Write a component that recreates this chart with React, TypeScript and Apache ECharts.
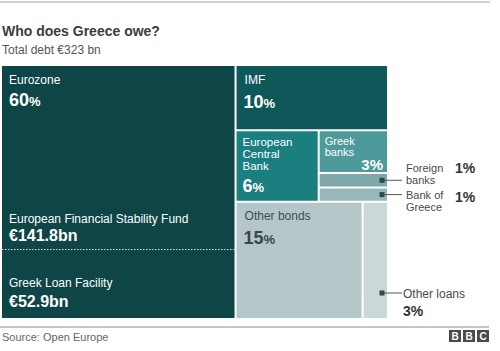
import React, { useEffect, useRef } from "react";
import * as echarts from "echarts";

const chartTitle = "Who does Greece owe?";
const chartSubtitle = "Total debt €323 bn";
const sourceText = "Source: Open Europe";

const creditors = [
  "Eurozone",
  "IMF",
  "European\nCentral\nBank",
  "Greek\nbanks",
  "Foreign\nbanks",
  "Bank of\nGreece",
  "Other bonds",
  "Other loans",
];
const shares = [60, 10, 6, 3, 1, 1, 15, 3];
const fundNames = ["European Financial Stability Fund", "Greek Loan Facility"];
const fundValues = [141.8, 52.9];

// nesting of the slice-and-dice layout (indices into creditors)
type Node = number | { dir: "h" | "v"; children: Node[] };
const layoutTree: Node = {
  dir: "h",
  children: [
    0,
    {
      dir: "v",
      children: [
        1,
        { dir: "h", children: [2, { dir: "v", children: [3, 4, 5] }] },
        { dir: "h", children: [6, 7] },
      ],
    },
  ],
};

const colors = ["#0e4546", "#0f5859", "#1b7e7f", "#4e9a9b", "#7ea8a9", "#97b8ba", "#b5c6c9", "#cbd8da"];
const FONT = '"Liberation Sans", Arial, Helvetica, sans-serif';

function nodeValue(n: Node): number {
  if (typeof n === "number") return shares[n];
  return n.children.reduce((s, c) => s + nodeValue(c), 0);
}

function layout(n: Node, x0: number, y0: number, x1: number, y1: number, out: number[][]) {
  if (typeof n === "number") {
    out.push([x0, y0, x1, y1, n]);
    return;
  }
  const total = nodeValue(n);
  let acc = 0;
  for (const c of n.children) {
    const f0 = acc / total;
    acc += nodeValue(c);
    const f1 = acc / total;
    if (n.dir === "h") layout(c, x0 + (x1 - x0) * f0, y0, x0 + (x1 - x0) * f1, y1, out);
    else layout(c, x0, y0 + (y1 - y0) * f0, x1, y0 + (y1 - y0) * f1, out);
  }
}

function pctRich(v: number, color: string, big: number, small: number) {
  return {
    text: `{n|${v}}{p|%}`,
    rich: {
      n: { fontSize: big, fontWeight: "bold", fill: color, fontFamily: FONT, verticalAlign: "bottom" },
      p: { fontSize: small, fontWeight: "bold", fill: color, fontFamily: FONT, verticalAlign: "bottom", padding: [0, 0, 1, 0] },
    },
  };
}

function txt(x: number, y: number, text: string, opts: any = {}) {
  return {
    type: "text",
    x,
    y,
    style: {
      text,
      fill: opts.fill || "#fff",
      fontSize: opts.fontSize || 12,
      fontWeight: opts.fontWeight || "normal",
      fontFamily: FONT,
      align: opts.align || "left",
      verticalAlign: opts.verticalAlign || "middle",
      lineHeight: opts.lineHeight || 13,
    },
  };
}

function pctText(x: number, y: number, v: number, color: string, big = 18, small = 13) {
  const r = pctRich(v, color, big, small);
  return {
    type: "text",
    x,
    y,
    style: { text: r.text, rich: r.rich, fontFamily: FONT, align: "left", verticalAlign: "middle", fill: color },
  };
}

function external(x: number, y: number, w: number, cy: number, name: string, v: number, mode: string) {
  const mx = x + w - 5;
  const els: any[] = [
    { type: "line", shape: { x1: mx, y1: cy, x2: x + w + 15, y2: cy }, style: { stroke: "#555", lineWidth: 1 } },
    { type: "rect", shape: { x: mx - 2.5, y: cy - 2.5, width: 5, height: 5 }, style: { fill: "#2c4a4b" } },
  ];
  const tx = x + w + 19;
  const small = { fill: "#4a4a4a", fontSize: 11, lineHeight: 11.5 };
  if (mode === "above") {
    els.push(txt(tx, cy + 5, name, { ...small, verticalAlign: "bottom" }));
    els.push(txt(455, cy - 12, `${v}%`, { fill: "#333", fontWeight: "bold", fontSize: 14 }));
  } else if (mode === "below") {
    els.push(txt(tx, cy - 5, name, { ...small, verticalAlign: "top" }));
    els.push(txt(455, cy + 2, `${v}%`, { fill: "#333", fontWeight: "bold", fontSize: 14 }));
  } else {
    els.push(txt(x + w + 16, cy + 1, name, { fill: "#4a4a4a" }));
    els.push(txt(x + w + 16, cy + 18, `${v}%`, { fill: "#333", fontWeight: "bold", fontSize: 14 }));
  }
  return els;
}

export default function App() {
  const ref = useRef<HTMLDivElement>(null);

  useEffect(() => {
    if (!ref.current) return;
    const chart = echarts.init(ref.current, undefined, { renderer: "svg" });
    const rects: number[][] = [];
    layout(layoutTree, 0, 0, 1, 1, rects);
    const fundTotal = fundValues[0] + fundValues[1];

    const renderItem = (params: any, api: any) => {
      const i = api.value(4);
      const a = api.coord([api.value(0), api.value(1)]);
      const b = api.coord([api.value(2), api.value(3)]);
      const x = a[0] + 1;
      const y = a[1] + 1;
      const w = b[0] - a[0] - 2;
      const h = b[1] - a[1] - 2;
      const children: any[] = [
        { type: "rect", shape: { x, y, width: w, height: h }, style: { fill: colors[i] } },
      ];
      const name = creditors[i];
      const v = shares[i];
      if (i === 0) {
        children.push(txt(x + 7, y + 14, name));
        children.push(pctText(x + 7, y + 34, v, "#fff"));
        const dy = y + h - h * (fundValues[1] / fundTotal);
        children.push({
          type: "line",
          shape: { x1: x, y1: dy, x2: x + w, y2: dy },
          style: { stroke: "#fff", lineWidth: 1, lineDash: [1.5, 1.5], opacity: 0.85 },
        });
        children.push(txt(x + 7, dy - 31, fundNames[0]));
        children.push(txt(x + 7, dy - 14, `€${fundValues[0]}bn`, { fontWeight: "bold", fontSize: 16 }));
        children.push(txt(x + 7, y + h - 35, fundNames[1]));
        children.push(txt(x + 7, y + h - 17, `€${fundValues[1]}bn`, { fontWeight: "bold", fontSize: 16 }));
      } else if (i === 1) {
        children.push(txt(x + 8, y + 14, name));
        children.push(pctText(x + 7, y + 36, v, "#fff"));
      } else if (i === 2) {
        children.push(txt(x + 6, y + 5, name, { verticalAlign: "top", fontSize: 11.5, lineHeight: 12 }));
        children.push(pctText(x + 6, y + 55, v, "#fff"));
      } else if (i === 3) {
        children.push(txt(x + 5, y + 4, name, { verticalAlign: "top", fontSize: 11, lineHeight: 11.5 }));
        children.push(txt(x + w - 4, y + h - 8, `${v}%`, { align: "right", fontWeight: "bold", fontSize: 15 }));
      } else if (i === 6) {
        children.push(txt(x + 8, y + 13, name, { fill: "#3e4d50" }));
        children.push(pctText(x + 7, y + 35, v, "#3a4749"));
      } else if (i === 4) {
        children.push(...external(x, y, w, y + h / 2, name, v, "above"));
      } else if (i === 5) {
        children.push(...external(x, y, w, y + h / 2, name, v, "below"));
      } else if (i === 7) {
        children.push(...external(x, y, w, y + h - 25, name, v, "side"));
      }
      return { type: "group", children };
    };

    const bbc = ["B", "B", "C"];
    const graphic: any[] = [
      { type: "rect", shape: { x: 0, y: 1, width: 490, height: 2 }, style: { fill: "#d2d2d2" } },
      {
        type: "text", x: 2, y: 31,
        style: { text: chartTitle, fill: "#3c3c3c", fontSize: 14, fontWeight: "bold", fontFamily: FONT, verticalAlign: "middle" },
      },
      {
        type: "text", x: 2, y: 50,
        style: { text: chartSubtitle, fill: "#555", fontSize: 12, fontFamily: FONT, verticalAlign: "middle" },
      },
      { type: "rect", shape: { x: 0, y: 326, width: 489, height: 2 }, style: { fill: "#c4c4c4" } },
      {
        type: "text", x: 2, y: 337,
        style: { text: sourceText, fill: "#666", fontSize: 11, fontFamily: FONT, verticalAlign: "middle" },
      },
      ...bbc.flatMap((ch, k) => [
        { type: "rect", shape: { x: 449 + k * 14, y: 330, width: 12, height: 12 }, style: { fill: "#4a4a4a" } },
        {
          type: "text", x: 455 + k * 14, y: 336.5,
          style: { text: ch, fill: "#fff", fontSize: 10, fontWeight: "bold", fontFamily: FONT, align: "center", verticalAlign: "middle" },
        },
      ]),
    ];

    chart.setOption({
      animation: false,
      backgroundColor: "#fff",
      grid: { left: 1, top: 65, width: 387, height: 254 },
      xAxis: { type: "value", min: 0, max: 1, show: false },
      yAxis: { type: "value", min: 0, max: 1, inverse: true, show: false },
      graphic,
      series: [
        {
          type: "custom",
          clip: false,
          renderItem,
          encode: { x: [0, 2], y: [1, 3] },
          data: rects,
        },
      ],
    });
    return () => chart.dispose();
  }, []);

  return <div ref={ref} style={{ position: "fixed", left: 0, top: 0, width: 500, height: 351 }} />;
}
